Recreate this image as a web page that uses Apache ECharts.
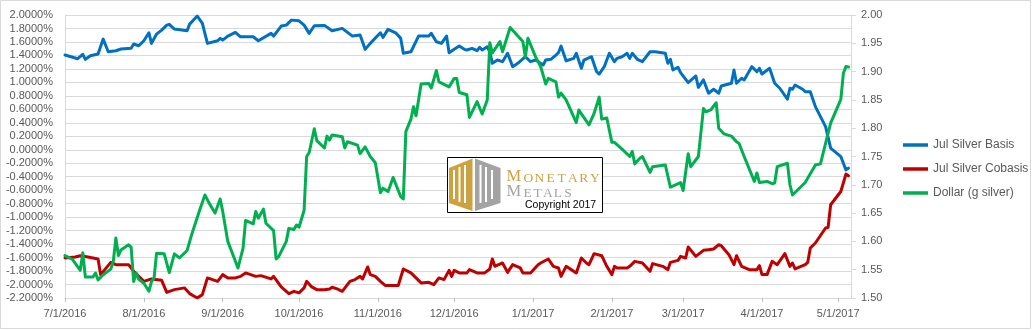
<!DOCTYPE html>
<html><head><meta charset="utf-8">
<script src="https://cdn.jsdelivr.net/npm/echarts@6/dist/echarts.min.js"></script>
<style>html,body{margin:0;padding:0;background:#fff}#c{width:1032px;height:330px}</style>
</head><body><div id="c"></div>
<script>
// ---- Data ----
const seriesNames = ['Jul Silver Basis', 'Jul Silver Cobasis', 'Dollar (g silver)'];
const tickDates = ['2016-07-01','2016-08-01','2016-09-01','2016-10-01','2016-11-01','2016-12-01',
  '2017-01-01','2017-02-01','2017-03-01','2017-04-01','2017-05-01'];

const basisDates = [
  '2016-07-01','2016-07-06','2016-07-08','2016-07-09','2016-07-11','2016-07-14','2016-07-16','2016-07-18','2016-07-21','2016-07-23','2016-07-27','2016-07-28','2016-07-30',
  '2016-08-01','2016-08-03','2016-08-04','2016-08-06','2016-08-08','2016-08-10','2016-08-11','2016-08-13','2016-08-18','2016-08-19','2016-08-22','2016-08-24','2016-08-26','2016-08-30','2016-08-31',
  '2016-09-01','2016-09-03','2016-09-06','2016-09-08','2016-09-13','2016-09-15','2016-09-20','2016-09-21','2016-09-24','2016-09-26','2016-09-28',
  '2016-10-01','2016-10-03','2016-10-05','2016-10-07','2016-10-11','2016-10-14','2016-10-18','2016-10-22','2016-10-25','2016-10-27','2016-10-29',
  '2016-11-02','2016-11-03','2016-11-05','2016-11-08','2016-11-10','2016-11-11','2016-11-14','2016-11-17','2016-11-21','2016-11-22','2016-11-24','2016-11-26','2016-11-28','2016-11-29',
  '2016-12-01','2016-12-03','2016-12-05','2016-12-06','2016-12-08','2016-12-10','2016-12-11','2016-12-12','2016-12-14','2016-12-15','2016-12-16','2016-12-18','2016-12-20','2016-12-22','2016-12-24','2016-12-26','2016-12-29','2016-12-31',
  '2017-01-02','2017-01-05','2017-01-06','2017-01-08','2017-01-10','2017-01-11','2017-01-12','2017-01-14','2017-01-17','2017-01-18','2017-01-20','2017-01-21','2017-01-24','2017-01-26','2017-01-27','2017-01-29','2017-01-31',
  '2017-02-02','2017-02-03','2017-02-05','2017-02-07','2017-02-08','2017-02-09','2017-02-11','2017-02-13','2017-02-16','2017-02-18','2017-02-22','2017-02-23','2017-02-24','2017-02-25','2017-02-27','2017-02-28',
  '2017-03-03','2017-03-06','2017-03-07','2017-03-09','2017-03-11','2017-03-13','2017-03-15','2017-03-16','2017-03-20','2017-03-21','2017-03-22','2017-03-24','2017-03-25','2017-03-28','2017-03-30','2017-03-31',
  '2017-04-01','2017-04-04','2017-04-06','2017-04-08','2017-04-11','2017-04-12','2017-04-13','2017-04-14','2017-04-17','2017-04-18','2017-04-20','2017-04-22','2017-04-26','2017-04-28',
  '2017-05-02','2017-05-04','2017-05-05'
];
const basisValues = [
  1.406,1.351,1.416,1.342,1.396,1.421,1.643,1.455,1.470,1.495,1.505,1.569,1.544,
  1.618,1.736,1.579,1.717,1.776,1.850,1.861,1.791,1.766,1.865,1.984,1.876,1.579,1.618,1.653,
  1.628,1.687,1.742,1.677,1.677,1.618,1.727,1.687,1.836,1.850,1.924,
  1.914,1.850,1.727,1.840,1.846,1.766,1.801,1.687,1.702,1.490,1.579,
  1.736,1.668,1.787,1.736,1.653,1.431,1.455,1.687,1.687,1.727,1.603,1.579,1.687,1.440,
  1.490,1.539,1.490,1.480,1.505,1.470,1.520,1.480,1.529,1.455,1.283,1.332,1.307,1.431,1.233,1.283,1.381,1.307,
  1.332,1.258,1.332,1.342,1.406,1.440,1.539,1.321,1.357,1.431,1.209,1.332,1.381,1.159,1.124,1.233,1.431,
  1.307,1.357,1.381,1.431,1.357,1.431,1.342,1.307,1.455,1.455,1.431,1.283,1.342,1.184,1.224,1.144,
  0.996,1.095,0.927,1.036,0.839,0.898,0.839,0.947,0.987,1.184,0.987,1.061,1.036,1.233,1.159,1.209,
  1.124,1.209,0.987,0.913,0.750,0.913,0.898,0.961,0.898,0.862,0.862,0.640,0.344,0.024,
  -0.101,-0.298,-0.273
];

const cobasisDates = [
  '2016-07-01','2016-07-05','2016-07-07','2016-07-10','2016-07-14','2016-07-15','2016-07-19','2016-07-21','2016-07-26','2016-07-28',
  '2016-08-01','2016-08-04','2016-08-08','2016-08-10','2016-08-13','2016-08-17','2016-08-19','2016-08-22','2016-08-24','2016-08-26','2016-08-30',
  '2016-09-01','2016-09-03','2016-09-06','2016-09-08','2016-09-10','2016-09-12','2016-09-14','2016-09-16','2016-09-20','2016-09-21','2016-09-24','2016-09-27','2016-09-29',
  '2016-10-01','2016-10-03','2016-10-04','2016-10-06','2016-10-08','2016-10-11','2016-10-13','2016-10-14','2016-10-16','2016-10-18','2016-10-21','2016-10-23','2016-10-25','2016-10-26','2016-10-28','2016-10-29','2016-10-31',
  '2016-11-02','2016-11-04','2016-11-09','2016-11-11','2016-11-14','2016-11-18','2016-11-21','2016-11-23','2016-11-25','2016-11-27','2016-11-29','2016-11-30',
  '2016-12-01','2016-12-03','2016-12-06','2016-12-07','2016-12-10','2016-12-13','2016-12-15','2016-12-16','2016-12-17','2016-12-20','2016-12-22','2016-12-24','2016-12-27','2016-12-28','2016-12-31',
  '2017-01-03','2017-01-04','2017-01-07','2017-01-09','2017-01-11','2017-01-12','2017-01-14','2017-01-16','2017-01-18','2017-01-20','2017-01-22','2017-01-23','2017-01-25','2017-01-28','2017-01-30',
  '2017-02-01','2017-02-02','2017-02-03','2017-02-07','2017-02-08','2017-02-10','2017-02-13','2017-02-16','2017-02-17','2017-02-21','2017-02-23','2017-02-24','2017-02-27','2017-02-28',
  '2017-03-02','2017-03-03','2017-03-06','2017-03-08','2017-03-09','2017-03-11','2017-03-13','2017-03-15','2017-03-16','2017-03-19','2017-03-21','2017-03-22','2017-03-24','2017-03-27','2017-03-30','2017-03-31',
  '2017-04-01','2017-04-03','2017-04-05','2017-04-07','2017-04-10','2017-04-12','2017-04-13','2017-04-14','2017-04-18','2017-04-19','2017-04-20','2017-04-22','2017-04-26','2017-04-27','2017-04-28',
  '2017-05-02','2017-05-04','2017-05-05'
];
const cobasisValues = [
  -1.606,-1.591,-1.572,-1.591,-1.621,-1.853,-1.671,-1.705,-1.705,-1.804,
  -1.953,-1.917,-1.938,-2.116,-2.076,-2.050,-2.135,-2.199,-2.150,-1.902,-1.953,
  -1.853,-1.902,-1.902,-1.879,-1.828,-1.853,-1.879,-1.868,-1.917,-1.879,-2.036,-2.135,-2.101,
  -2.124,-2.050,-1.953,-2.036,-2.076,-2.076,-2.065,-2.041,-2.065,-2.101,-1.953,-1.927,-1.879,-1.917,-1.739,-1.853,-1.879,
  -1.953,-2.016,-2.016,-1.769,-1.828,-1.976,-1.967,-2.001,-1.902,-1.927,-1.790,-1.879,
  -1.790,-1.828,-1.828,-1.779,-1.828,-1.828,-1.769,-1.621,-1.730,-1.680,-1.819,-1.705,-1.754,-1.828,-1.828,
  -1.705,-1.680,-1.621,-1.730,-1.754,-1.879,-1.730,-1.779,-1.828,-1.606,-1.680,-1.705,-1.542,-1.572,-1.730,
  -1.853,-1.730,-1.754,-1.754,-1.730,-1.656,-1.680,-1.804,-1.690,-1.730,-1.779,-1.671,-1.641,-1.582,
  -1.606,-1.443,-1.582,-1.523,-1.493,-1.483,-1.473,-1.409,-1.424,-1.557,-1.705,-1.572,-1.730,-1.779,-1.779,-1.720,
  -1.853,-1.853,-1.656,-1.705,-1.542,-1.730,-1.680,-1.769,-1.705,-1.671,-1.458,-1.384,-1.161,-1.153,-0.816,
  -0.619,-0.361,-0.387
];

const dollarDates = [
  '2016-07-01','2016-07-04','2016-07-07','2016-07-08','2016-07-09','2016-07-12','2016-07-13','2016-07-14','2016-07-16','2016-07-19','2016-07-20','2016-07-21','2016-07-22','2016-07-23','2016-07-26','2016-07-27','2016-07-28','2016-07-29','2016-07-30',
  '2016-08-01','2016-08-03','2016-08-04','2016-08-05','2016-08-06','2016-08-09','2016-08-11','2016-08-13','2016-08-15','2016-08-18','2016-08-20','2016-08-23','2016-08-25','2016-08-27','2016-08-29','2016-08-31',
  '2016-09-01','2016-09-03','2016-09-07','2016-09-09','2016-09-10','2016-09-13','2016-09-14','2016-09-15','2016-09-17','2016-09-18','2016-09-21','2016-09-22','2016-09-23','2016-09-26','2016-09-27','2016-09-29','2016-09-30',
  '2016-10-01','2016-10-03','2016-10-04','2016-10-05','2016-10-07','2016-10-08','2016-10-11','2016-10-12','2016-10-13','2016-10-14','2016-10-18','2016-10-19','2016-10-20','2016-10-24','2016-10-25','2016-10-27','2016-10-29','2016-10-31',
  '2016-11-02','2016-11-03','2016-11-05','2016-11-07','2016-11-10','2016-11-11','2016-11-12','2016-11-14','2016-11-15','2016-11-16','2016-11-18','2016-11-21','2016-11-22','2016-11-24','2016-11-25','2016-11-29',
  '2016-12-01','2016-12-02','2016-12-03','2016-12-06','2016-12-07','2016-12-10','2016-12-12','2016-12-14','2016-12-15','2016-12-16','2016-12-19','2016-12-20','2016-12-23','2016-12-28','2016-12-29','2016-12-30',
  '2017-01-02','2017-01-04','2017-01-06','2017-01-07','2017-01-10','2017-01-11','2017-01-12','2017-01-14','2017-01-18','2017-01-19','2017-01-23','2017-01-25','2017-01-27','2017-01-28','2017-01-30',
  '2017-02-01','2017-02-02','2017-02-05','2017-02-08','2017-02-09','2017-02-10','2017-02-12','2017-02-13','2017-02-16','2017-02-17','2017-02-22','2017-02-24','2017-02-28',
  '2017-03-01','2017-03-03','2017-03-04','2017-03-07','2017-03-09','2017-03-10','2017-03-12','2017-03-14','2017-03-15','2017-03-17','2017-03-20','2017-03-22','2017-03-23','2017-03-25','2017-03-29','2017-03-30','2017-03-31',
  '2017-04-03','2017-04-05','2017-04-06','2017-04-07','2017-04-11','2017-04-12','2017-04-13','2017-04-18','2017-04-22','2017-04-24','2017-04-26','2017-04-28',
  '2017-05-02','2017-05-03','2017-05-04','2017-05-05'
];
const dollarValues = [
  1.575,1.568,1.549,1.580,1.537,1.537,1.544,1.532,1.541,1.551,1.565,1.606,1.575,1.585,1.594,1.590,1.529,1.544,1.533,
  1.526,1.512,1.529,1.535,1.579,1.578,1.545,1.578,1.571,1.584,1.615,1.656,1.682,1.665,1.650,1.675,
  1.653,1.600,1.553,1.588,1.637,1.631,1.653,1.641,1.657,1.632,1.619,1.569,1.573,1.600,1.623,1.621,1.629,
  1.625,1.655,1.750,1.757,1.799,1.778,1.765,1.786,1.779,1.788,1.785,1.765,1.776,1.770,1.755,1.767,1.750,1.739,
  1.686,1.694,1.688,1.713,1.679,1.675,1.794,1.816,1.838,1.822,1.878,1.879,1.871,1.902,1.882,1.873,
  1.888,1.888,1.863,1.859,1.819,1.847,1.825,1.850,1.951,1.933,1.953,1.935,1.978,1.953,1.926,1.959,
  1.926,1.909,1.878,1.888,1.882,1.855,1.862,1.850,1.810,1.832,1.806,1.826,1.855,1.816,1.818,
  1.775,1.775,1.763,1.750,1.759,1.737,1.747,1.750,1.722,1.732,1.735,1.696,1.704,
  1.690,1.755,1.732,1.750,1.835,1.829,1.833,1.845,1.800,1.790,1.786,1.776,1.773,1.750,1.706,1.721,1.704,
  1.706,1.702,1.703,1.732,1.738,1.700,1.682,1.704,1.735,1.737,1.773,1.809,
  1.851,1.897,1.909,1.908
];

// ---- Helpers ----
function toTime(s) { const p = s.split('-').map(Number); return new Date(p[0], p[1] - 1, p[2]).getTime(); }
function pairs(dates, vals) { return dates.map((d, i) => [toTime(d), vals[i]]); }
function fmtDate(v) { const d = new Date(v); return (d.getMonth() + 1) + '/' + d.getDate() + '/' + d.getFullYear(); }

const FONT = 'Liberation Sans';
const AXIS_GRAY = '#d9d9d9';
const TEXT_GRAY = '#595959';
const tickTimes = tickDates.map(toTime);

// ---- Logo graphic ----
const GOLD = '#CDA23E', SILVER = '#A3A3A3';
const logo = [];
logo.push({ type: 'rect', shape: { x: 447.5, y: 157.5, width: 155, height: 55 },
  style: { fill: '#fff', stroke: '#000', lineWidth: 1 }, z: 100 });
logo.push({ type: 'polygon', shape: { points: [[449,168],[472.5,158.5],[472.5,211],[449,203]] },
  style: { fill: GOLD }, z: 101 });
logo.push({ type: 'polygon', shape: { points: [[475,158.5],[500.5,168],[500.5,203],[475,211]] },
  style: { fill: SILVER }, z: 101 });
[[453,170,2,29],[458.5,167,2,35],[464,165,2,38],[479.5,165,2,38],[485,167,2,35],[491,170,2,29]].forEach(r => {
  logo.push({ type: 'rect', shape: { x: r[0], y: r[1], width: r[2], height: r[3] }, style: { fill: '#fff' }, z: 102 });
});
function smallCaps(word, big, xStart, bigW, adv, baseline, color) {
  logo.push({ type: 'text', x: xStart, y: baseline - 5.6, z: 102,
    style: { text: big, fill: color, font: '16.5px "Liberation Serif"', align: 'left', verticalAlign: 'middle' } });
  word.split('').forEach((ch, i) => {
    logo.push({ type: 'text', x: xStart + bigW + adv / 2 + adv * i, y: baseline - 4.5, z: 102,
      style: { text: ch, fill: color, font: '13.5px "Liberation Serif"', align: 'center', verticalAlign: 'middle' } });
  });
}
smallCaps('ONETARY', 'M', 506.5, 16.3, 11.1, 182.5, GOLD);
smallCaps('ETALS', 'M', 506.5, 16.0, 10.1, 197.7, SILVER);
logo.push({ type: 'text', x: 525, y: 205.5, z: 102,
  style: { text: 'Copyright 2017', fill: '#000', font: '10.5px "Liberation Sans"', align: 'left', verticalAlign: 'middle' } });
logo.push({ type: 'rect', shape: { x: 0.5, y: 0.5, width: 1030, height: 328 },
  style: { fill: 'none', stroke: AXIS_GRAY, lineWidth: 1 }, z: 0, silent: true });

const chart = echarts.init(document.getElementById('c'), null, { renderer: 'canvas' });
chart.setOption({
  animation: false,
  backgroundColor: '#fff',
  textStyle: { fontFamily: FONT },
  grid: { left: 65, right: 181, top: 15, bottom: 32, containLabel: false },
  legend: {
    data: seriesNames, orient: 'vertical', left: 898, top: 133,
    icon: 'rect', itemWidth: 25, itemHeight: 3.5, itemGap: 10,
    textStyle: { color: TEXT_GRAY, fontSize: 12, fontFamily: FONT, lineHeight: 14 }
  },
  xAxis: {
    type: 'value',
    min: toTime('2016-07-01'), max: toTime('2017-05-06'),
    axisLine: { show: true, onZero: false, lineStyle: { color: AXIS_GRAY, width: 1 } },
    axisTick: { show: true, length: 4, lineStyle: { color: '#bfbfbf' }, customValues: tickTimes },
    axisLabel: { color: TEXT_GRAY, fontSize: 11, margin: 10, fontFamily: FONT,
      customValues: tickTimes, formatter: v => fmtDate(v), hideOverlap: false },
    splitLine: { show: false }
  },
  yAxis: [
    {
      type: 'value', position: 'left', min: -2.2, max: 2.0, interval: 0.2,
      axisLine: { show: true, lineStyle: { color: AXIS_GRAY } },
      axisTick: { show: false },
      splitLine: { show: true, lineStyle: { color: AXIS_GRAY, width: 1 } },
      axisLabel: { color: TEXT_GRAY, fontSize: 11, margin: 12, fontFamily: FONT,
        formatter: v => (Math.abs(v) < 1e-9 ? 0 : v).toFixed(4) + '%' }
    },
    {
      type: 'value', position: 'right', min: 1.5, max: 2.0, interval: 0.05,
      axisLine: { show: true, lineStyle: { color: AXIS_GRAY } },
      axisTick: { show: true, inside: false, length: 5, lineStyle: { color: AXIS_GRAY } },
      splitLine: { show: false },
      axisLabel: { color: TEXT_GRAY, fontSize: 11, margin: 10, fontFamily: FONT,
        formatter: v => v.toFixed(2) }
    }
  ],
  series: [
    { name: seriesNames[0], type: 'line', yAxisIndex: 0, data: pairs(basisDates, basisValues),
      showSymbol: false, symbol: 'none', color: '#0070C0',
      lineStyle: { width: 3, color: '#0070C0', cap: 'round', join: 'round' } },
    { name: seriesNames[1], type: 'line', yAxisIndex: 0, data: pairs(cobasisDates, cobasisValues),
      showSymbol: false, symbol: 'none', color: '#C00000',
      lineStyle: { width: 3, color: '#C00000', cap: 'round', join: 'round' } },
    { name: seriesNames[2], type: 'line', yAxisIndex: 1, data: pairs(dollarDates, dollarValues),
      showSymbol: false, symbol: 'none', color: '#00B050',
      lineStyle: { width: 3, color: '#00B050', cap: 'round', join: 'round' } }
  ],
  graphic: { elements: logo }
});
</script>
</body></html>
